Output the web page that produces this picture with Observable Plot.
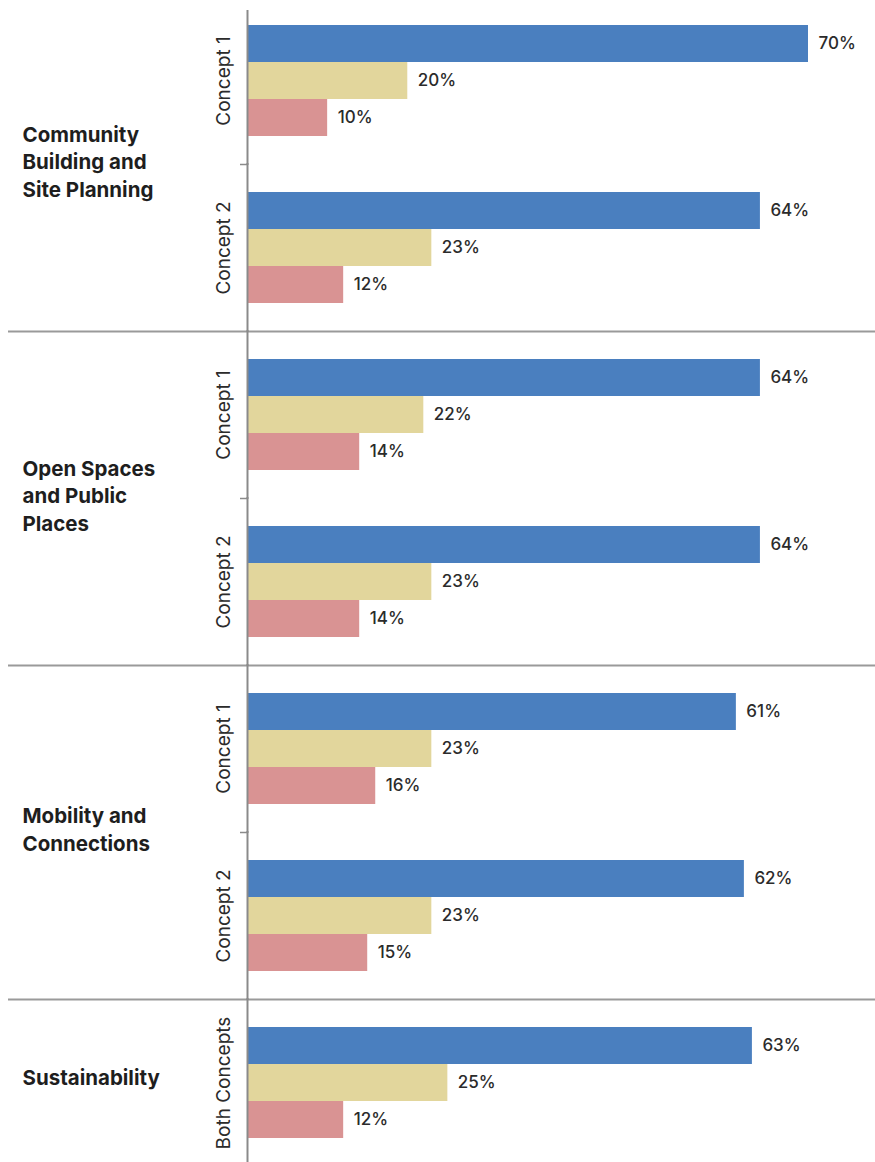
<!DOCTYPE html>
<html>
<head>
<meta charset="utf-8">
<script src="https://cdn.jsdelivr.net/npm/d3@7"></script>
<script src="https://cdn.jsdelivr.net/npm/@observablehq/plot@0.6"></script>
<style>
  html, body { margin: 0; padding: 0; background: #ffffff; }
  #chart svg { display: block; }
  #chart g[aria-label="group-label"] text { letter-spacing: 2.3px; }
  #chart g[aria-label="concept-label"] text { letter-spacing: 1.1px; }
  #chart g[aria-label="value-label"] text { letter-spacing: 1.2px; }
</style>
</head>
<body>
<div id="chart"></div>
<script>
// ---- data ----
const groups = ["Community Building and Site Planning", "Open Spaces and Public Places", "Mobility and Connections", "Sustainability"];
const groupLabels = ["Community\nBuilding and\nSite Planning", "Open Spaces\nand Public\nPlaces", "Mobility and\nConnections", "Sustainability"];
const slotGroups = ["Community Building and Site Planning", "Community Building and Site Planning", "Open Spaces and Public Places", "Open Spaces and Public Places", "Mobility and Connections", "Mobility and Connections", "Sustainability"];
const slotConcepts = ["Concept 1", "Concept 2", "Concept 1", "Concept 2", "Concept 1", "Concept 2", "Both Concepts"];
const series = ["Support", "Neutral", "Oppose"];
const supportValues = [70, 64, 64, 64, 61, 62, 63];
const neutralValues = [20, 23, 22, 23, 23, 23, 25];
const opposeValues  = [10, 12, 14, 14, 16, 15, 12];
const seriesColors = ["#4a7fbf", "#e2d69c", "#d99393"];

// ---- derived tables ----
const slots = slotGroups.map((g, i) => ({
  key: g + " | " + slotConcepts[i],
  group: g,
  concept: slotConcepts[i],
  index: i
}));
const slotKeys = slots.map(s => s.key);
const valueLists = [supportValues, neutralValues, opposeValues];
const rows = [];
slots.forEach((s, i) => {
  series.forEach((name, j) => {
    rows.push({slot: s.key, series: name, value: valueLists[j][i]});
  });
});
const groupStarts = groups.map((g, gi) => {
  const members = slots.filter(s => s.group === g);
  return {slot: members[0].key, label: groupLabels[gi], size: members.length};
});
const twoSlotStarts = groupStarts.filter(d => d.size === 2);
const oneSlotStarts = groupStarts.filter(d => d.size === 1);
const separatorSlots = groups.slice(0, -1).map(g => {
  const members = slots.filter(s => s.group === g);
  return {slot: members[members.length - 1].key};
});

const FONT = "Inter, 'Open Sans', sans-serif";

const chart = Plot.plot({
  width: 875,
  height: 1162,
  marginTop: 23,
  marginBottom: 23,
  marginLeft: 247,
  marginRight: 67,
  style: {fontFamily: FONT, color: "#2b2b2b", background: "#ffffff"},
  x: {domain: [0, 70], axis: null},
  y: {domain: series, padding: 0, axis: null},
  fy: {domain: slotKeys, paddingInner: 0.337, paddingOuter: 0, axis: null},
  color: {domain: series, range: seriesColors},
  marks: [
    Plot.ruleY(separatorSlots, {
      fy: "slot", y: d => "Oppose", dy: 46.5,
      insetLeft: -239, insetRight: -67,
      stroke: "#9a9a9a", strokeWidth: 2
    }),
    Plot.ruleY(twoSlotStarts, {
      fy: "slot", y: d => "Oppose", dy: 46.5,
      x1: d => 0, x2: d => 0, insetLeft: -7,
      stroke: "#8a8a8a", strokeWidth: 1.5
    }),
    Plot.barX(rows, {x: "value", y: "series", fy: "slot", fill: "series"}),
    Plot.ruleX(slots.filter(s => s.index === 0), {
      fy: "key", x: d => 0, insetTop: -15, insetBottom: -29,
      stroke: "#8a8a8a", strokeWidth: 2
    }),
    Plot.ruleX(slots.filter(s => s.index > 0), {
      fy: "key", x: d => 0, insetTop: -29, insetBottom: -29,
      stroke: "#8a8a8a", strokeWidth: 2
    }),
    Plot.text(rows, {
      ariaLabel: "value-label",
      x: "value", y: "series", fy: "slot",
      text: d => d.value + "%",
      textAnchor: "start", dx: 10,
      fontSize: 17, fontWeight: 500, fill: "#2b2b2b"
    }),
    Plot.text(slots, {
      ariaLabel: "concept-label",
      fy: "key", x: d => 0, y: d => "Neutral",
      text: "concept", rotate: -90, dx: -24,
      fontSize: 19, fontWeight: 400, fill: "#2b2b2b"
    }),
    Plot.text(twoSlotStarts, {
      ariaLabel: "group-label",
      fy: "slot", x: d => 0, frameAnchor: "bottom", dy: 24,
      text: "label", textAnchor: "start", lineAnchor: "middle", dx: -225,
      lineHeight: 1.36, fontSize: 20.5, fontWeight: 700, fill: "#1e1e1e"
    }),
    Plot.text(oneSlotStarts, {
      ariaLabel: "group-label",
      fy: "slot", x: d => 0, frameAnchor: "middle", dy: -7,
      text: "label", textAnchor: "start", lineAnchor: "middle", dx: -225,
      lineHeight: 1.36, fontSize: 20.5, fontWeight: 700, fill: "#1e1e1e"
    })
  ]
});
document.getElementById("chart").appendChild(chart);
</script>
</body>
</html>
